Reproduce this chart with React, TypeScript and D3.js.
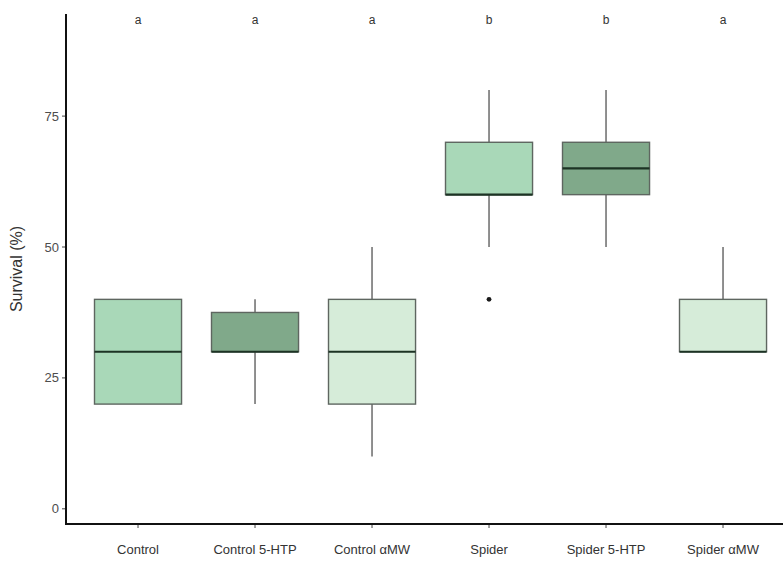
import { useMemo } from "react";
import * as d3 from "d3";

const W = 783;
const H = 561;

const groups = ["Control", "Control 5-HTP", "Control αMW", "Spider", "Spider 5-HTP", "Spider αMW"];
const lowerWhisker = [20, 20, 10, 50, 50, 30];
const q1 = [20, 30, 20, 60, 60, 30];
const medians = [30, 30, 30, 60, 65, 30];
const q3 = [40, 37.5, 40, 70, 70, 40];
const upperWhisker = [40, 40, 50, 80, 80, 50];
const outliers = [[], [], [], [40], [], []];
const letters = ["a", "a", "a", "b", "b", "a"];
const fills = ["#a9d8b8", "#80a98a", "#d6ecd9", "#a9d8b8", "#80a98a", "#d6ecd9"];
const yTicks = [0, 25, 50, 75];

const AX_X = 66;
const AX_Y = 524;
const TOP = 14;

const App = () => {
  // step ~117px, box ~87px, first box centred near x=138
  const x = useMemo(
    () => d3.scaleBand<string>().domain(groups).range([65.25, 795.8]).paddingOuter(0.25).paddingInner(0.256),
    []
  );
  const y = useMemo(() => d3.scaleLinear().domain([-2.9, 94.5]).range([AX_Y, TOP]), []);

  const bw = x.bandwidth();

  return (
    <svg width={W} height={H} style={{ position: "absolute", left: 0, top: 0, background: "#fff" }}
      fontFamily="Liberation Sans, Arial, sans-serif">
      {groups.map((g, i) => {
        const x0 = x(g)!;
        const cx = x0 + bw / 2;
        return (
          <g key={g}>
            <line x1={cx} x2={cx} y1={y(upperWhisker[i])} y2={y(q3[i])} stroke="#6b6b6b" strokeWidth={1.5} />
            <line x1={cx} x2={cx} y1={y(q1[i])} y2={y(lowerWhisker[i])} stroke="#6b6b6b" strokeWidth={1.5} />
            <rect x={x0} y={y(q3[i])} width={bw} height={y(q1[i]) - y(q3[i])}
              fill={fills[i]} stroke="#5e6660" strokeWidth={1.4} />
            <line x1={x0} x2={x0 + bw} y1={y(medians[i])} y2={y(medians[i])} stroke="#1d3324" strokeWidth={2.2} />
            {outliers[i].map((o, j) => (
              <circle key={j} cx={cx} cy={y(o)} r={2.4} fill="#1a1a1a" />
            ))}
            <text x={cx} y={24} textAnchor="middle" fontSize={12} fill="#333">{letters[i]}</text>
            <line x1={cx} x2={cx} y1={AX_Y} y2={AX_Y + 4} stroke="#444" strokeWidth={1} />
            <text x={cx} y={AX_Y + 30} textAnchor="middle" fontSize={13} fill="#333">{g}</text>
          </g>
        );
      })}
      {yTicks.map((t) => (
        <g key={t}>
          <line x1={AX_X - 4} x2={AX_X} y1={y(t)} y2={y(t)} stroke="#444" strokeWidth={1} />
          <text x={AX_X - 7} y={y(t)} dy="0.35em" textAnchor="end" fontSize={13} fill="#4d4d4d">{t}</text>
        </g>
      ))}
      <line x1={AX_X} x2={AX_X} y1={TOP} y2={AX_Y + 1} stroke="#111" strokeWidth={2} />
      <line x1={AX_X - 1} x2={W} y1={AX_Y} y2={AX_Y} stroke="#111" strokeWidth={2} />
      <text transform={`translate(22,${(TOP + AX_Y) / 2}) rotate(-90)`} textAnchor="middle" fontSize={16} fill="#333">
        Survival (%)
      </text>
    </svg>
  );
};

export default App;
